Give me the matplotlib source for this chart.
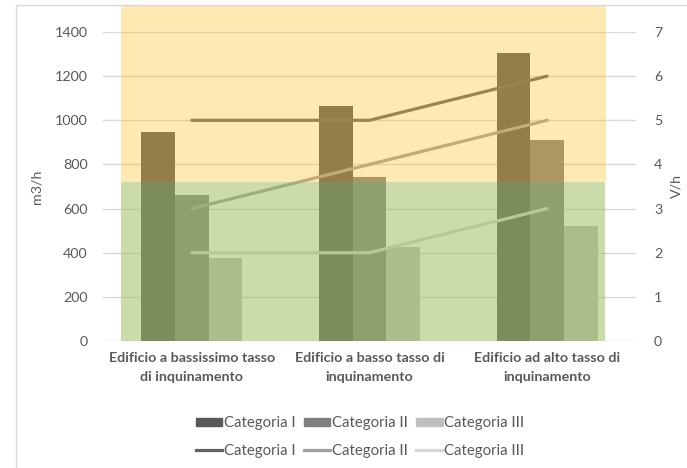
import numpy as np
import matplotlib.pyplot as plt
from matplotlib.patches import Rectangle
from matplotlib.lines import Line2D

plt.rcParams['font.family'] = ['Lato', 'DejaVu Sans']

# data
buildings = ['Edificio a bassissimo tasso\ndi inquinamento',
             'Edificio a basso tasso di\ninquinamento',
             'Edificio ad alto tasso di\ninquinamento']
series = ['Categoria I', 'Categoria II', 'Categoria III']
flow_m3h = [[945, 1065, 1303],   # Categoria I
            [662, 745, 910],     # Categoria II
            [378, 425, 520]]     # Categoria III
vol_h = [[5, 5, 6],
         [3, 4, 5],
         [2, 2, 3]]
left_ticks = [0, 200, 400, 600, 800, 1000, 1200, 1400]
right_ticks = [0, 1, 2, 3, 4, 5, 6, 7]

bar_colors = ['#595959', '#808080', '#BFBFBF']
line_colors = ['#636363', '#A0A0A0', '#D6D6D6']
txt = '#595959'
W, H = 687, 468

fig = plt.figure(figsize=(W / 100, H / 100), dpi=100)
ax = fig.add_axes([103 / W, 1 - 341 / H, 533 / W, 309 / H])
ax2 = ax.twinx()

x = np.arange(len(buildings))
bw = 0.19
for i, vals in enumerate(flow_m3h):
    ax.bar(x + (i - 1) * bw, vals, width=bw, color=bar_colors[i], zorder=2)
for i, vals in enumerate(vol_h):
    ax2.plot(x, vals, color=line_colors[i], lw=2.3, solid_capstyle='round', zorder=3)

ax.set_xlim(-0.5, 2.5)
ax.set_ylim(0, 1400)
ax2.set_ylim(0, 7)
ax.set_yticks(left_ticks)
ax2.set_yticks(right_ticks)
ax.set_xticks(x)
ax.set_xticklabels(buildings, fontsize=10.7, fontweight='bold', color=txt, linespacing=1.7)
ax.grid(axis='y', color='#D9D9D9', lw=1, zorder=0)
ax.set_axisbelow(True)
for a in (ax, ax2):
    for s in a.spines.values():
        s.set_visible(False)
    a.tick_params(length=0, labelsize=10.3, colors=txt)
ax.tick_params(axis='y', pad=11)
ax.tick_params(axis='x', pad=8)
ax2.tick_params(axis='y', pad=13)
ax.set_ylabel('m3/h', fontsize=10.3, color=txt, labelpad=9)
ax2.set_ylabel('V/h', fontsize=10.3, color=txt, labelpad=6)

# translucent coloured zones over the plot
fig.patches.append(Rectangle((121 / W, 1 - 182 / H), 485 / W, 177 / H,
                             transform=fig.transFigure, color='#FDC22A', alpha=0.36, lw=0, zorder=5))
fig.patches.append(Rectangle((121 / W, 1 - 341 / H), 484 / W, 159 / H,
                             transform=fig.transFigure, color='#99BD5E', alpha=0.53, lw=0, zorder=5))
# chart border
fig.patches.append(Rectangle((16 / W, -0.01), 1.0, 1 - 5 / H + 0.01,
                             transform=fig.transFigure, fill=False, ec='#D9D9D9', lw=1, zorder=6))

handles = []
for i in range(3):
    handles.append(Rectangle((0, 0), 1, 1, color=bar_colors[i]))
    handles.append(Line2D([], [], color=line_colors[i], lw=2.3))
labels = []
for s in series:
    labels += [s, s]
fig.legend(handles, labels, ncol=3, loc='center', bbox_to_anchor=(0.524, 0.066),
           frameon=False, fontsize=10.7, labelcolor=txt, handlelength=1.8, handleheight=0.5,
           handletextpad=0.1, columnspacing=0.55, labelspacing=0.95)

fig.savefig('out.png', dpi=100)
